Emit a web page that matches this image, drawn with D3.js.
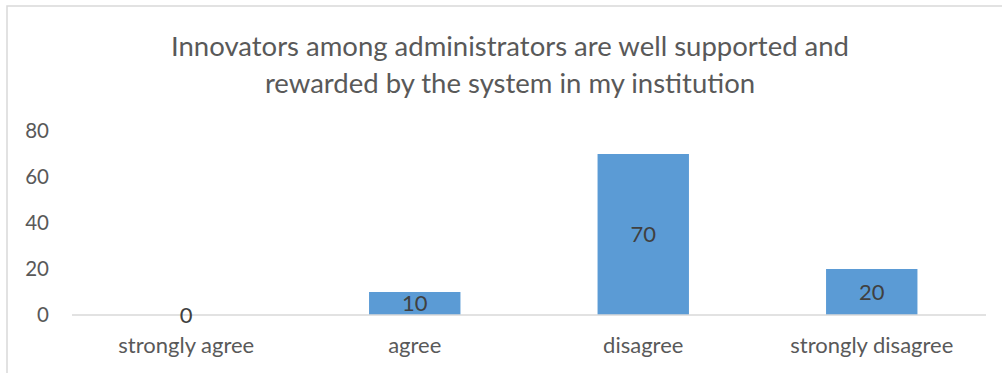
<!DOCTYPE html>
<html>
<head>
<meta charset="utf-8">
<script src="https://cdn.jsdelivr.net/npm/d3@7"></script>
<style>
  body { margin: 0; background: #fff; }
  text { font-family: Lato, "Open Sans", sans-serif; }
</style>
</head>
<body>
<div id="chart"></div>
<script>
var titleLines = ["Innovators among administrators are well supported and",
                  "rewarded by the system in my institution"];
var categories = ["strongly agree", "agree", "disagree", "strongly disagree"];
var values = [0, 10, 70, 20];
var yTicks = [0, 20, 40, 60, 80];

var width = 1002, height = 373;

var svg = d3.select("#chart").append("svg")
  .attr("width", width)
  .attr("height", height);

// chart frame, cut off at right and bottom like the screenshot
svg.append("rect")
  .attr("x", 7).attr("y", 6)
  .attr("width", 1040).attr("height", 420)
  .attr("fill", "#fff")
  .attr("stroke", "#d9d9d9")
  .attr("stroke-width", 1.5);

var title = svg.append("text")
  .attr("text-anchor", "middle")
  .attr("fill", "#595959")
  .style("font-size", "27.5px");
title.selectAll("tspan")
  .data(titleLines)
  .enter().append("tspan")
  .attr("x", 510)
  .attr("y", function(d, i) { return 56 + i * 37; })
  .text(function(d) { return d; });

var x = d3.scaleBand()
  .domain(categories)
  .range([72, 986])
  .paddingInner(0.6)
  .paddingOuter(0.3);

var y = d3.scaleLinear()
  .domain([0, 80])
  .range([315, 131]);

// y axis labels (no axis line, no gridlines)
var yAxis = svg.append("g")
  .attr("transform", "translate(49,0)")
  .call(d3.axisLeft(y).tickValues(yTicks).tickSize(0).tickPadding(0));
yAxis.select(".domain").remove();
yAxis.selectAll("text")
  .attr("fill", "#595959")
  .style("font-size", "20.5px")
  .style("font-family", "Lato, sans-serif");

// bars
svg.selectAll("rect.bar")
  .data(values)
  .enter().append("rect")
  .attr("class", "bar")
  .attr("x", function(d, i) { return x(categories[i]); })
  .attr("y", function(d) { return y(d); })
  .attr("width", x.bandwidth())
  .attr("height", function(d) { return y(0) - y(d); })
  .attr("fill", "#5b9bd5");

// baseline / x axis
var xAxis = svg.append("g")
  .attr("transform", "translate(0," + y(0) + ")")
  .call(d3.axisBottom(x).tickSize(0).tickPadding(22));
xAxis.select(".domain")
  .attr("stroke", "#d9d9d9")
  .attr("stroke-width", 1.5)
  .attr("d", "M72,0H986");
xAxis.selectAll("text")
  .attr("fill", "#595959")
  .style("font-size", "22px")
  .style("font-family", "Lato, sans-serif");

// data labels, centred in bars
svg.selectAll("text.val")
  .data(values)
  .enter().append("text")
  .attr("class", "val")
  .attr("x", function(d, i) { return x(categories[i]) + x.bandwidth() / 2; })
  .attr("y", function(d) { return (y(d) + y(0)) / 2; })
  .attr("dy", "0.36em")
  .attr("text-anchor", "middle")
  .attr("fill", "#404040")
  .style("font-size", "22px")
  .text(function(d) { return d; });
</script>
</body>
</html>
